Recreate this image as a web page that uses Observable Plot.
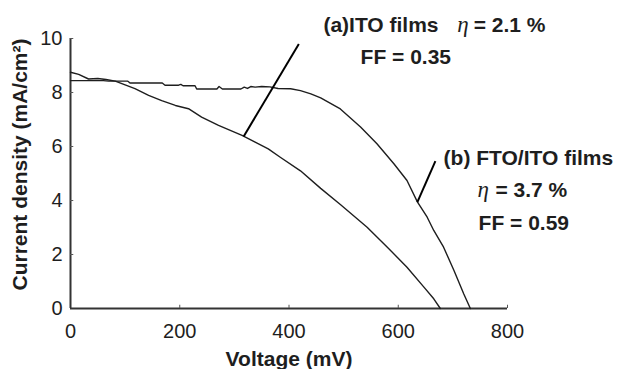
<!DOCTYPE html>
<html>
<head>
<meta charset="utf-8">
<script src="https://cdn.jsdelivr.net/npm/d3@7"></script>
<script src="https://cdn.jsdelivr.net/npm/@observablehq/plot@0.6"></script>
<style>
  html, body { margin: 0; padding: 0; background: #fff; }
  #chart { width: 621px; height: 369px; }
</style>
</head>
<body>
<div id="chart"></div>
<script>
// ---- data ----
const xTicks = [0, 200, 400, 600, 800];
const yTicks = [0, 2, 4, 6, 8, 10];

// (a) ITO films
const itoV = [0, 15, 33, 50, 65, 82, 100, 118, 143, 167, 192, 216, 240, 271, 314, 338, 362, 384, 421, 458, 494, 543, 580, 616, 647, 665, 677];
const itoJ = [8.75, 8.67, 8.5, 8.52, 8.48, 8.42, 8.28, 8.14, 7.89, 7.7, 7.52, 7.4, 7.09, 6.78, 6.41, 6.16, 5.91, 5.6, 5.1, 4.45, 3.85, 3.01, 2.27, 1.53, 0.79, 0.36, 0];

// (b) FTO/ITO films
const ftoV = [0, 60, 70, 105, 109, 168, 173, 198, 202, 206, 228, 231, 268, 272, 278, 312, 318, 324, 330, 338, 350, 365, 380, 403, 421, 440, 458, 494, 531, 561, 592, 616, 635, 653, 665, 683, 702, 720, 732];
const ftoJ = [8.44, 8.44, 8.42, 8.42, 8.35, 8.35, 8.27, 8.27, 8.3, 8.25, 8.25, 8.13, 8.13, 8.22, 8.13, 8.13, 8.2, 8.15, 8.22, 8.2, 8.22, 8.21, 8.15, 8.14, 8.07, 7.95, 7.8, 7.39, 6.72, 6.1, 5.36, 4.74, 3.95, 3.38, 2.89, 2.27, 1.41, 0.54, 0];

// pointer lines (x1, y1) -> (x2, y2) in data units
const pointerX1 = [317, 635];
const pointerY1 = [6.37, 3.94];
const pointerX2 = [418, 668];
const pointerY2 = [9.8, 5.46];

// annotation text
const annBold = ["(a)ITO films", "= 2.1 %", "FF = 0.35", "(b) FTO/ITO films", "= 3.7 %", "FF = 0.59"];
const annBoldX = [463, 738, 531, 683, 778, 747];
const annBoldY = [10.23, 10.23, 9.06, 5.30, 4.12, 2.89];
const annEta = ["η", "η"];
const annEtaX = [708, 745];
const annEtaY = [10.23, 4.12];

const xLabel = "Voltage (mV)";
const yLabel = "Current density (mA/cm²)";

// ---- build tables ----
const ito = itoV.map((v, i) => ({v, j: itoJ[i]}));
const fto = ftoV.map((v, i) => ({v, j: ftoJ[i]}));
const pointers = pointerX1.map((x, i) => ({x1: x, y1: pointerY1[i], x2: pointerX2[i], y2: pointerY2[i]}));
const bold = annBold.map((t, i) => ({t, x: annBoldX[i], y: annBoldY[i]}));
const eta = annEta.map((t, i) => ({t, x: annEtaX[i], y: annEtaY[i]}));

const ink = "#1e1e1e";
const font = "'Liberation Sans', Arial, Helvetica, sans-serif";

const chart = Plot.plot({
  width: 621,
  height: 369,
  marginLeft: 70,
  marginRight: 114,
  marginTop: 38,
  marginBottom: 61,
  style: {fontFamily: font, background: "#fff", color: ink, overflow: "visible"},
  x: {domain: [0, 800]},
  y: {domain: [0, 10]},
  marks: [
    // axis lines
    Plot.ruleX([0], {stroke: "#333", strokeWidth: 2}),
    Plot.ruleY([0], {stroke: "#333", strokeWidth: 2}),
    // inward tick marks
    Plot.ruleX(xTicks.filter(d => d > 0), {x: d => d, y1: 0, y2: 0.12, stroke: "#555", strokeWidth: 1}),
    Plot.ruleY(yTicks.filter(d => d > 0), {y: d => d, x1: 0, x2: 6, stroke: "#555", strokeWidth: 1}),
    // tick labels
    Plot.axisX({ticks: xTicks, tickSize: 0, tickPadding: 15, fontSize: 20, label: null, tickFormat: d => String(d)}),
    Plot.axisY({ticks: yTicks, tickSize: 0, tickPadding: 8, fontSize: 20, label: null, tickFormat: d => String(d)}),
    // curves
    Plot.line(ito, {x: "v", y: "j", stroke: ink, strokeWidth: 1.4}),
    Plot.line(fto, {x: "v", y: "j", stroke: ink, strokeWidth: 1.4}),
    // pointers
    Plot.link(pointers, {x1: "x1", y1: "y1", x2: "x2", y2: "y2", stroke: "#000", strokeWidth: 2}),
    // annotations
    Plot.text(bold, {x: "x", y: "y", text: "t", textAnchor: "start", lineAnchor: "bottom", fontSize: 21, fontWeight: "bold", fill: ink}),
    Plot.text(eta, {x: "x", y: "y", text: "t", textAnchor: "start", lineAnchor: "bottom", fontSize: 23, fontStyle: "italic", fontFamily: "'Liberation Serif', 'DejaVu Serif', serif", fill: ink}),
    // axis titles
    Plot.text([xLabel], {frameAnchor: "bottom", textAnchor: "middle", dy: 57, lineAnchor: "bottom", fontSize: 21, fontWeight: "bold", fill: ink}),
    Plot.text([yLabel], {frameAnchor: "left", textAnchor: "middle", lineAnchor: "middle", dx: -50, dy: -9, rotate: -90, fontSize: 21, fontWeight: "bold", fill: ink})
  ]
});
document.getElementById("chart").appendChild(chart);
</script>
</body>
</html>
